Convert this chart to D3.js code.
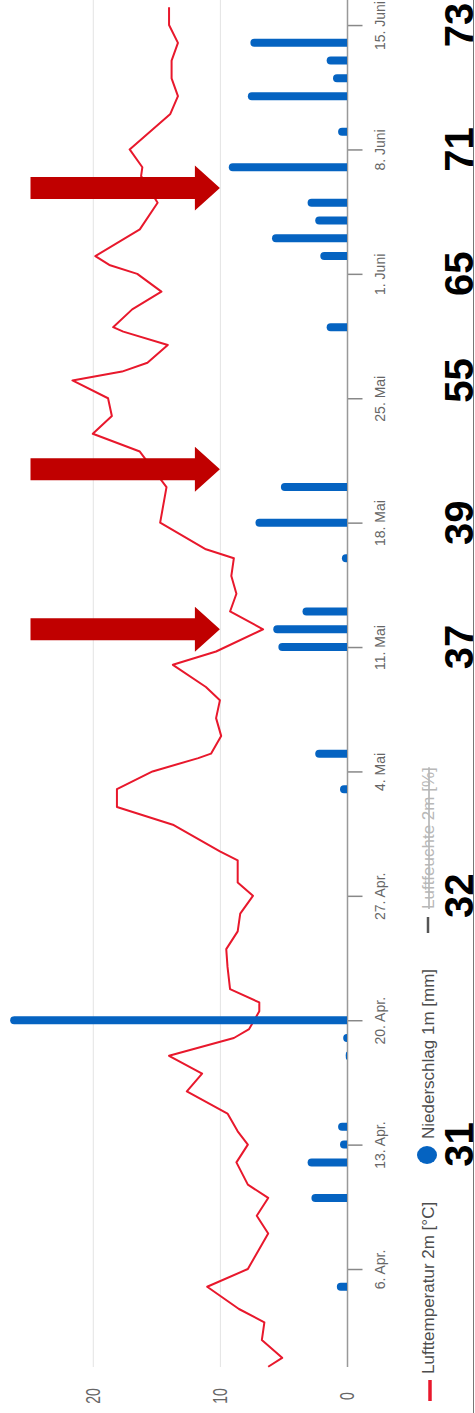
<!DOCTYPE html>
<html>
<head>
<meta charset="utf-8">
<script src="https://cdnjs.cloudflare.com/ajax/libs/d3/7.8.5/d3.min.js"></script>
<style>
  html, body { margin: 0; padding: 0; background: #fff; overflow: hidden; }
  text { font-family: 'Liberation Sans', Arial, sans-serif; }
</style>
</head>
<body>
<svg id="chart" width="475" height="1413"></svg>
<script>
// temperature (daily-ish readings)
const tempTimes = [
  '2023-03-31 12', '2023-04-01 00', '2023-04-02 00', '2023-04-03 00', '2023-04-03 18',
  '2023-04-05 00', '2023-04-06 00', '2023-04-08 00', '2023-04-09 00', '2023-04-10 00',
  '2023-04-10 18', '2023-04-12 00', '2023-04-13 00', '2023-04-13 18', '2023-04-14 18',
  '2023-04-16 00', '2023-04-17 00', '2023-04-18 00', '2023-04-19 00', '2023-04-19 12',
  '2023-04-20 12', '2023-04-21 00', '2023-04-21 18', '2023-04-23 00', '2023-04-24 00',
  '2023-04-25 00', '2023-04-26 00', '2023-04-27 00', '2023-04-27 18', '2023-04-29 00',
  '2023-04-29 12', '2023-05-01 00', '2023-05-02 00', '2023-05-03 00', '2023-05-04 00',
  '2023-05-04 18', '2023-05-05 00', '2023-05-06 00', '2023-05-07 00', '2023-05-08 00',
  '2023-05-08 18', '2023-05-10 00', '2023-05-10 18', '2023-05-12 00', '2023-05-13 00',
  '2023-05-14 00', '2023-05-15 00', '2023-05-16 00', '2023-05-16 12', '2023-05-18 00',
  '2023-05-20 00', '2023-05-22 00', '2023-05-23 00', '2023-05-24 00', '2023-05-25 00',
  '2023-05-26 00', '2023-05-26 12', '2023-05-27 00', '2023-05-28 00', '2023-05-28 18',
  '2023-05-29 00', '2023-05-30 00', '2023-05-31 00', '2023-06-01 00', '2023-06-01 12',
  '2023-06-02 00', '2023-06-03 12', '2023-06-05 00', '2023-06-06 12', '2023-06-07 00',
  '2023-06-08 00', '2023-06-09 00', '2023-06-10 00', '2023-06-11 00', '2023-06-12 00',
  '2023-06-13 00', '2023-06-14 00', '2023-06-15 00', '2023-06-16 00'
];
const tempValues = [
  6.2, 5.1, 6.7, 6.5, 8.5,
  11.0, 7.8, 6.2, 7.1, 6.2,
  7.8, 8.7, 7.8, 8.6, 9.4,
  12.6, 11.4, 14.0, 8.9, 7.7,
  6.9, 6.9, 9.2, 9.4, 9.5,
  8.6, 8.4, 7.4, 8.6, 8.6,
  10.0, 13.7, 18.1, 18.1, 15.3,
  11.7, 10.7, 9.9, 10.3, 10.0,
  11.1, 13.7, 10.3, 6.6, 9.2,
  8.7, 9.1, 8.9, 11.1, 14.7,
  14.2, 16.3, 20.0, 18.5, 18.8,
  21.6, 17.7, 15.7, 14.1, 17.6,
  18.4, 16.9, 14.6, 16.5, 18.7,
  19.8, 16.3, 14.9, 16.2, 16.1,
  17.1, 15.5, 13.9, 13.3, 13.8,
  13.8, 13.3, 14.0, 14.0
];

// precipitation per day
const rainDays = [
  '2023-04-05 00', '2023-04-10 00', '2023-04-12 00', '2023-04-13 00', '2023-04-14 00',
  '2023-04-18 00', '2023-04-19 00', '2023-04-20 00', '2023-05-03 00', '2023-05-05 00',
  '2023-05-11 00', '2023-05-12 00', '2023-05-13 00', '2023-05-16 00', '2023-05-18 00',
  '2023-05-20 00', '2023-05-29 00', '2023-06-02 00', '2023-06-03 00', '2023-06-04 00',
  '2023-06-05 00', '2023-06-07 00', '2023-06-09 00', '2023-06-11 00', '2023-06-12 00',
  '2023-06-13 00', '2023-06-14 00'
];
const rainValues = [
  0.8, 2.8, 3.1, 0.55, 0.7,
  0.1, 0.3, 26.5, 0.55, 2.5,
  5.4, 5.8, 3.5, 0.4, 7.2,
  5.2, 1.6, 2.1, 5.9, 2.5,
  3.1, 9.3, 0.7, 7.8, 1.1,
  1.6, 7.6
];

const tickDays = [
  '2023-04-06 00', '2023-04-13 00', '2023-04-20 00', '2023-04-27 00', '2023-05-04 00',
  '2023-05-11 00', '2023-05-18 00', '2023-05-25 00', '2023-06-01 00', '2023-06-08 00',
  '2023-06-15 00'
];
const monthNames = ['Jan.', 'Feb.', 'März', 'Apr.', 'Mai', 'Juni', 'Juli', 'Aug.', 'Sep.', 'Okt.', 'Nov.', 'Dez.'];
const valueTicks = [0, 10, 20];

// big black numbers and red arrows placed on top
const noteDays = [
  '2023-04-13 00', '2023-04-27 00', '2023-05-11 00', '2023-05-18 00',
  '2023-05-26 00', '2023-06-01 00', '2023-06-08 00', '2023-06-15 00'
];
const noteLabels = ['31', '32', '37', '39', '55', '65', '71', '73'];
const arrowTimes = ['2023-05-12 00', '2023-05-21 00', '2023-06-05 20'];
const arrowFrom = 24.9;
const arrowTo = 10;

const legendLabels = ['Lufttemperatur 2m [°C]', 'Niederschlag 1m [mm]', 'Luftfeuchte 2m [%]'];

const parse = d3.timeParse('%Y-%m-%d %H');
const fmtTick = d => `${d.getDate()}. ${monthNames[d.getMonth()]}`;

const svg = d3.select('#chart');

// value axis runs right -> left, time runs bottom -> top
const x = d3.scaleLinear().domain([0, 27.3]).range([347, 0]);
const y = d3.scaleTime()
  .domain([new Date(2023, 2, 31, 11, 40), new Date(2023, 5, 16, 9, 50)])
  .range([1367, 0]);

const plotTop = 0, plotBottom = 1367;

// grid lines
svg.append('g').selectAll('line').data(valueTicks.filter(v => v > 0)).join('line')
  .attr('x1', d => x(d) + 0.5).attr('x2', d => x(d) + 0.5)
  .attr('y1', plotTop).attr('y2', plotBottom)
  .attr('stroke', '#e3e3e3').attr('stroke-width', 1);

// value labels
svg.append('g').selectAll('text').data(valueTicks).join('text')
  .attr('transform', d => `translate(${x(d) + 7},1396) rotate(-90) scale(1,1.4)`)
  .attr('text-anchor', 'middle')
  .attr('font-size', 14).attr('fill', '#666')
  .text(d => d);

// time axis
const axis = d3.axisRight(y)
  .tickValues(tickDays.map(parse))
  .tickSize(15)
  .tickFormat(fmtTick);
const ax = svg.append('g').attr('transform', 'translate(347.5,0)').call(axis);
ax.select('.domain').remove();
ax.selectAll('.tick line').attr('stroke', '#888').attr('stroke-width', 1.5);
ax.selectAll('.tick text')
  .attr('x', null).attr('dy', null)
  .attr('transform', 'translate(37,0) rotate(-90)')
  .attr('text-anchor', 'middle')
  .attr('font-size', 14).attr('fill', '#666')
  .attr('font-family', "'Liberation Sans', Arial, sans-serif");
svg.append('line')
  .attr('x1', 347.5).attr('x2', 347.5).attr('y1', plotTop).attr('y2', plotBottom)
  .attr('stroke', '#999').attr('stroke-width', 1.5);

// temperature line
const temps = tempTimes.map((t, i) => ({ t: parse(t), v: tempValues[i] }));
svg.append('path').datum(temps)
  .attr('fill', 'none').attr('stroke', '#e8182c').attr('stroke-width', 2)
  .attr('stroke-linejoin', 'round')
  .attr('d', d3.line().x(d => x(d.v)).y(d => y(d.t)));

// precipitation bars, rounded at the free end
const rain = rainDays.map((t, i) => ({ t: parse(t), v: rainValues[i] }));
const bw = 8, r = bw / 2;
svg.append('g').selectAll('path').data(rain).join('path')
  .attr('fill', '#0563c1')
  .attr('d', d => {
    const yc = y(d.t), x0 = x(0), x1 = Math.min(x(d.v), x0 - 1);
    const xr = Math.min(x1 + r, x0);
    const rr = Math.min(r, (x0 - x1));
    return `M${x0},${yc - r} H${xr} A${rr},${r} 0 0 0 ${xr},${yc + r} H${x0} Z`;
  });

// legend
const lg = svg.append('g');
lg.append('line').attr('x1', 430).attr('x2', 430).attr('y1', 1380).attr('y2', 1401)
  .attr('stroke', '#e8182c').attr('stroke-width', 3.5);
lg.append('ellipse').attr('cx', 427).attr('cy', 1155).attr('rx', 10).attr('ry', 9).attr('fill', '#0563c1');
lg.append('line').attr('x1', 428).attr('x2', 428).attr('y1', 917).attr('y2', 933)
  .attr('stroke', '#555').attr('stroke-width', 2.5);
const legendPos = [1374, 1139, 909];
lg.selectAll('text').data(legendLabels).join('text')
  .attr('transform', (d, i) => `translate(434,${legendPos[i]}) rotate(-90)`)
  .attr('font-size', 17)
  .attr('fill', (d, i) => i === 2 ? '#b8b8b8' : '#4d4d4d')
  .attr('text-decoration', (d, i) => i === 2 ? 'line-through' : null)
  .text(d => d);

// right frame
svg.append('line').attr('x1', 473.5).attr('x2', 473.5).attr('y1', 0).attr('y2', 1413)
  .attr('stroke', '#777').attr('stroke-width', 1);

// big numbers
svg.append('g').selectAll('text').data(noteLabels).join('text')
  .attr('transform', (d, i) => `translate(473,${y(parse(noteDays[i]))}) rotate(-90)`)
  .attr('text-anchor', 'middle')
  .attr('font-size', 40).attr('font-weight', 'bold').attr('fill', '#000')
  .text(d => d);

// red arrows
const bodyH = 22, headH = 45, headL = 25;
svg.append('g').selectAll('path').data(arrowTimes.map(parse)).join('path')
  .attr('fill', '#c00000')
  .attr('d', t => {
    const yc = y(t), xa = x(arrowFrom), xb = x(arrowTo), xh = xb - headL;
    return `M${xa},${yc - bodyH / 2} H${xh} V${yc - headH / 2} L${xb},${yc} L${xh},${yc + headH / 2} V${yc + bodyH / 2} H${xa} Z`;
  });
</script>
</body>
</html>
